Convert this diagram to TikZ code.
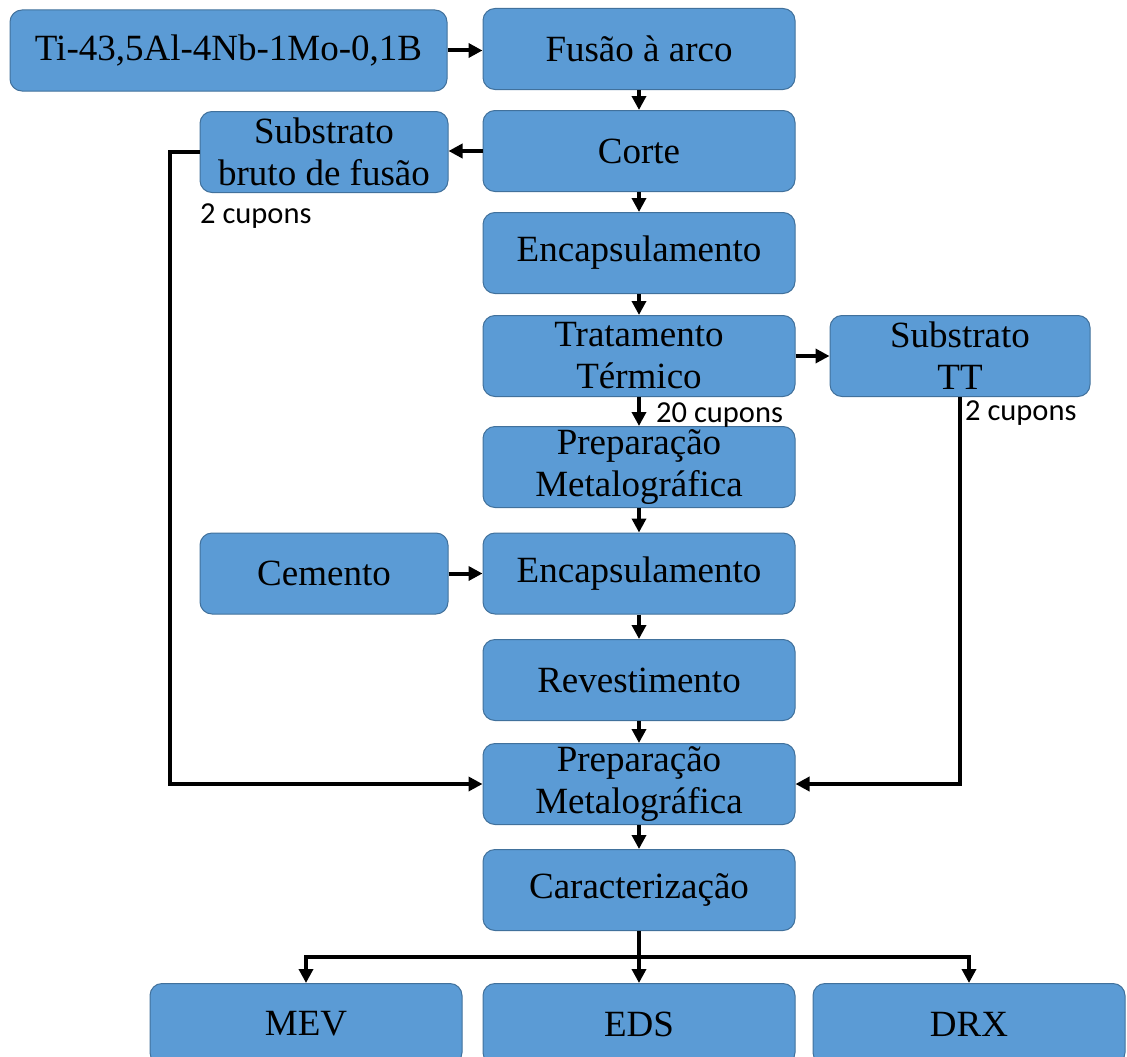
\documentclass[tikz,border=0pt]{standalone}
\usepackage{fontspec}
\setmainfont{Liberation Serif}
\newfontfamily\cuponsfont{Carlito}
\usetikzlibrary{arrows.meta}
\definecolor{boxblue}{RGB}{91,155,213}
\definecolor{boxline}{RGB}{65,113,156}

\begin{document}
\begin{tikzpicture}[x=1pt,y=-1pt]
		\tikzstyle{Node} = [rectangle, rounded corners=12pt, minimum width=312pt, minimum height=81pt, text centered, align=center, inner sep=0pt, draw=boxline, fill=boxblue, line width=1pt, font=\fontsize{37}{42}\selectfont]
		\tikzstyle{arrow} = [line width=4pt, -{Triangle[length=14pt,width=14pt]}]
		\tikzstyle{line} = [line width=4pt]
		\tikzstyle{count} = [font=\cuponsfont\fontsize{30.5}{33}\selectfont, inner sep=0pt, anchor=west]
		
		\useasboundingbox (0,0) rectangle (1127,1057);
		\clip (0,0) rectangle (1127,1057);
		
		\node (liga) [Node, minimum width=437pt] at (228.5,50.5) {Ti-43,5Al-4Nb-1Mo-0,1B};
		\node (fusao) [Node] at (639,49) {Fus\~ao \`a arco};
		\node (corte) [Node] at (639,151) {Corte};
		\node (subBruto) [Node, minimum width=248pt] at (324,152) {Substrato\\bruto de fus\~ao};
		\node (encap1) [Node] at (639,253) {Encapsulamento};
		\node (tratamento) [Node] at (639,356) {Tratamento\\T\'ermico};
		\node (subTT) [Node, minimum width=260pt] at (960,356) {Substrato\\TT};
		\node (prep1) [Node] at (639,467) {Prepara\c{c}\~ao\\Metalogr\'afica};
		\node (cemento) [Node, minimum width=248pt] at (324,573.5) {Cemento};
		\node (encap2) [Node] at (639,573.5) {Encapsulamento};
		\node (revest) [Node] at (639,680) {Revestimento};
		\node (prep2) [Node] at (639,784) {Prepara\c{c}\~ao\\Metalogr\'afica};
		\node (caract) [Node] at (639,890) {Caracteriza\c{c}\~ao};
		\node (mev) [Node] at (306,1024) {MEV};
		\node (eds) [Node] at (639,1024) {EDS};
		\node (drx) [Node] at (969,1024) {DRX};
		
		\node (cup1) [count] at (200,216) {2 cupons};
		\node (cup20) [count] at (656,415) {20 cupons};
		\node (cup2) [count] at (965,413) {2 cupons};
		
		\draw [arrow] (liga.east) -- (liga.east -| fusao.west);
		\draw [arrow] (fusao) -- (corte);
		\draw [arrow] (corte.west) -- (corte.west -| subBruto.east);
		\draw [arrow] (corte) -- (encap1);
		\draw [arrow] (encap1) -- (tratamento);
		\draw [arrow] (tratamento) -- (subTT);
		\draw [arrow] (tratamento) -- (prep1);
		\draw [arrow] (prep1) -- (encap2);
		\draw [arrow] (cemento) -- (encap2);
		\draw [arrow] (encap2) -- (revest);
		\draw [arrow] (revest) -- (prep2);
		\draw [arrow] (subBruto.west) -- ++(-30,0) |- (prep2.west);
		\draw [arrow] (subTT.south) |- (prep2.east);
		\draw [arrow] (prep2) -- (caract);
		
		\draw [line] (caract.south) -- ++(0,26) coordinate (split);
		\draw [arrow] (split) -| (mev.north);
		\draw [arrow] (split) -- (eds.north);
		\draw [arrow] (split) -| (drx.north);
\end{tikzpicture}
\end{document}
